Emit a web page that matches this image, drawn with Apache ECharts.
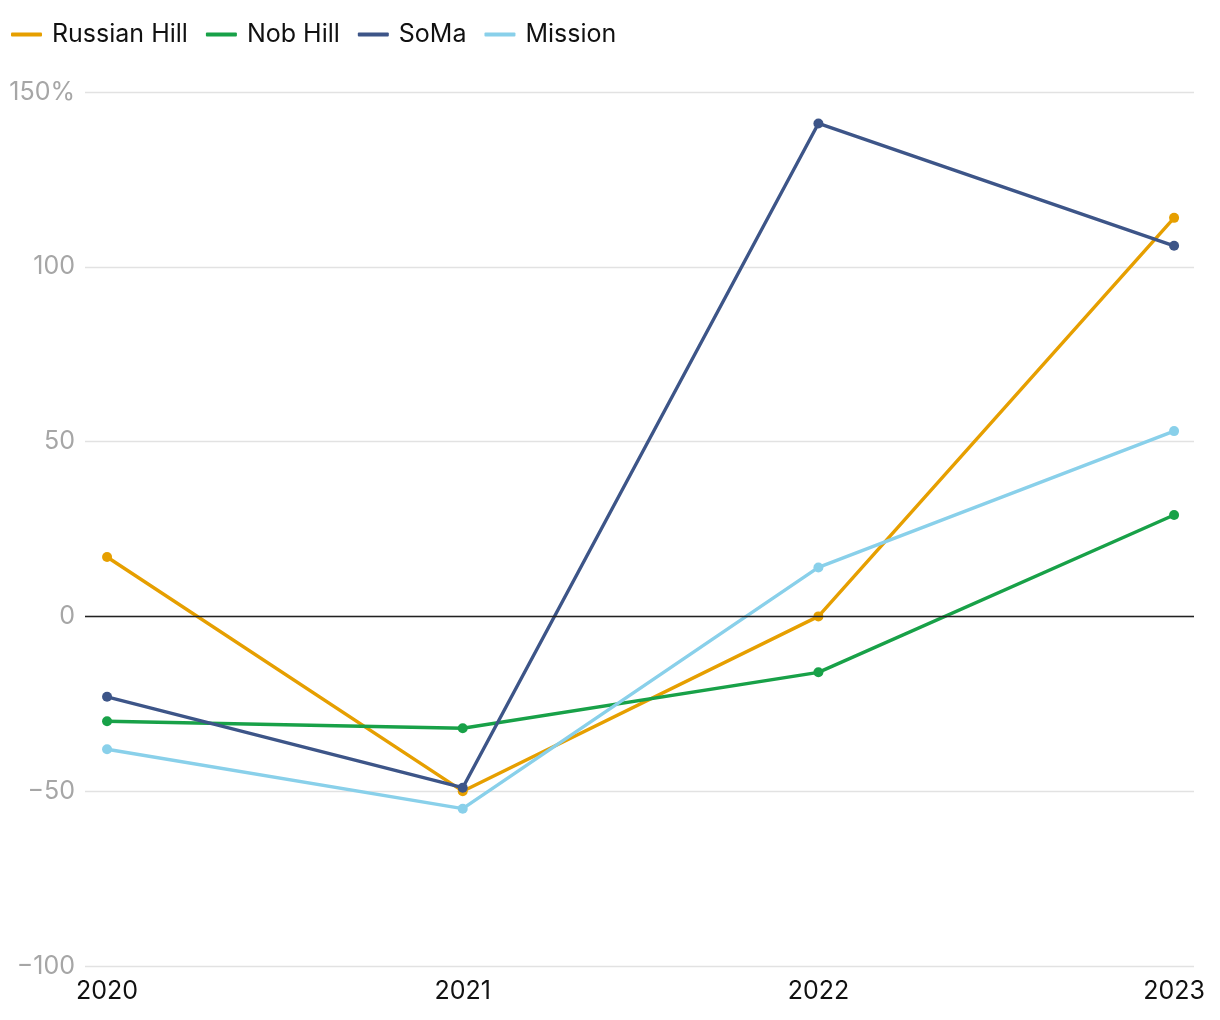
<!DOCTYPE html>
<html>
<head>
<meta charset="utf-8">
<script src="https://cdn.jsdelivr.net/npm/echarts@6/dist/echarts.min.js"></script>
<style>
  html, body { margin: 0; padding: 0; background: #fff; }
  #chart { width: 1220px; height: 1020px; }
</style>
</head>
<body>
<div id="chart"></div>
<script>
var years = [2020, 2021, 2022, 2023];
var russianHill = [17, -50, 0, 114];
var nobHill = [-30, -32, -16, 29];
var soma = [-23, -49, 141, 106];
var mission = [-38, -55, 14, 53];
var yTicks = [-100, -50, 0, 50, 100, 150];

var font = 'Inter, "Noto Sans", sans-serif';

function pairs (vals) {
  return years.map(function (y, i) { return [y, vals[i]]; });
}

function makeSeries (name, vals, color, withZero) {
  var s = {
    name: name,
    type: 'line',
    data: pairs(vals),
    symbol: 'circle',
    symbolSize: 10,
    lineStyle: { width: 3.4, color: color },
    itemStyle: { color: color },
    emphasis: { disabled: true }
  };
  if (withZero) {
    // black zero line across the grid
    s.markLine = {
      silent: true,
      symbol: 'none',
      label: { show: false },
      lineStyle: { color: '#222', width: 1.3, type: 'solid' },
      data: [{ yAxis: 0 }]
    };
  }
  return s;
}

var chart = echarts.init(document.getElementById('chart'));
chart.setOption({
  animation: false,
  textStyle: { fontFamily: font },
  legend: {
    left: 6,
    top: 17,
    icon: 'roundRect',
    itemWidth: 31,
    itemHeight: 4,
    itemGap: 18,
    textStyle: { fontSize: 25, color: '#111', fontFamily: font, padding: [0, 0, 0, 5] },
    data: ['Russian Hill', 'Nob Hill', 'SoMa', 'Mission']
  },
  grid: { left: 85, right: 26, top: 92, bottom: 54 },
  xAxis: {
    type: 'value',
    min: 2019.938,
    max: 2023.056,
    axisLine: { show: false },
    axisTick: { show: false },
    splitLine: { show: false },
    axisLabel: {
      customValues: years,
      fontSize: 25,
      color: '#111',
      margin: 13,
      fontFamily: font,
      formatter: function (v) { return String(v); }
    }
  },
  yAxis: {
    type: 'value',
    min: -100,
    max: 150,
    interval: 50,
    axisLine: { show: false },
    axisTick: { show: false },
    splitLine: { lineStyle: { color: '#e2e2e2', width: 1.3 } },
    axisLabel: {
      fontSize: 25,
      color: '#a6a6a6',
      margin: 10,
      fontFamily: font,
      formatter: function (v) {
        if (v === yTicks[yTicks.length - 1]) return v + '%';
        return v < 0 ? '\u2212' + Math.abs(v) : String(v);
      }
    }
  },
  series: [
    makeSeries('Russian Hill', russianHill, '#E69F00', true),
    makeSeries('Nob Hill', nobHill, '#18A148', false),
    makeSeries('SoMa', soma, '#3D5588', false),
    makeSeries('Mission', mission, '#89D0EA', false)
  ]
});
</script>
</body>
</html>
